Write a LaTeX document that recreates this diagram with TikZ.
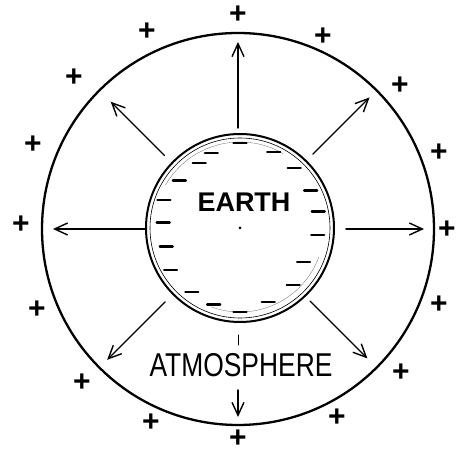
\documentclass[tikz,border=0pt]{standalone}
\usepackage{fontspec}
\newfontfamily\handfont{Liberation Sans}
\usetikzlibrary{calc,arrows.meta}

\begin{document}
\begin{tikzpicture}[x=1pt,y=1pt,line cap=round,line join=round,
  field/.style={line width=1.4pt,-{Straight Barb[length=13pt,width=12pt]}},
  plus/.style={font=\handfont\bfseries\fontsize{30}{30}\selectfont,inner sep=0pt},
  minus/.style={line width=2.3pt}]
  \useasboundingbox (0,0) rectangle (456,455);
  \coordinate (C) at (238,226); \coordinate (E) at (240,227);
  % atmosphere and earth
  \draw[line width=2.3pt] (C) circle (196);
  \draw[line width=2pt] (E) circle (94);
  \draw[line width=0.6pt] (E) circle (90);
  \draw[line width=0.3pt,black!60] ($(E)+(150:86)$) arc (150:60:86);
  \draw[line width=0.3pt,black!60] ($(E)+(-20:84)$) arc (-20:-110:84);
  \fill (E) circle (1.5);
  \foreach \a/\r in {90/85,111/80,66/83,122/77,48/81,142/77,28/80,160/81,12/80,176/77,
    -5/78,194/76,-28/72,211/81,-47/78,233/80,-69/79,251/81,270/84}
    \draw[minus] ($(E)+(\a:\r)+(-6.5,0)$) -- ++(13,0);
  \node[font=\handfont\bfseries\fontsize{27}{27}\selectfont] (earth) at (244,253) {EARTH};
  % field lines
  \foreach \a/\r/\s in {90/101/187,180/93/185,0/108/186,135/104/180,45/106/186,
    225/103/185,315/102/183}
    \draw[field] ($(C)+(\a:\r)$) -- ($(C)+(\a:\s)$);
  \draw[line width=1pt] ($(C)+(270:106)$) -- ($(C)+(270:116)$);
  \draw[field] ($(C)+(270:161)$) -- ($(C)+(270:188)$);
  \node[font=\handfont\fontsize{33}{33}\selectfont,xscale=0.8,fill=white,inner sep=1pt] (atmo) at (241,90) {ATMOSPHERE};
  % positive charges
  \foreach \x/\y [count=\i] in {238/440,147/423,323/418,74/377,400/369,33/310,439/302,
    21/230,447/225,37/145,439/150,82/72,401/82,151/32,337/37,238/16}
    \node[plus] (p\i) at (\x,\y) {+};
\end{tikzpicture}
\end{document}
